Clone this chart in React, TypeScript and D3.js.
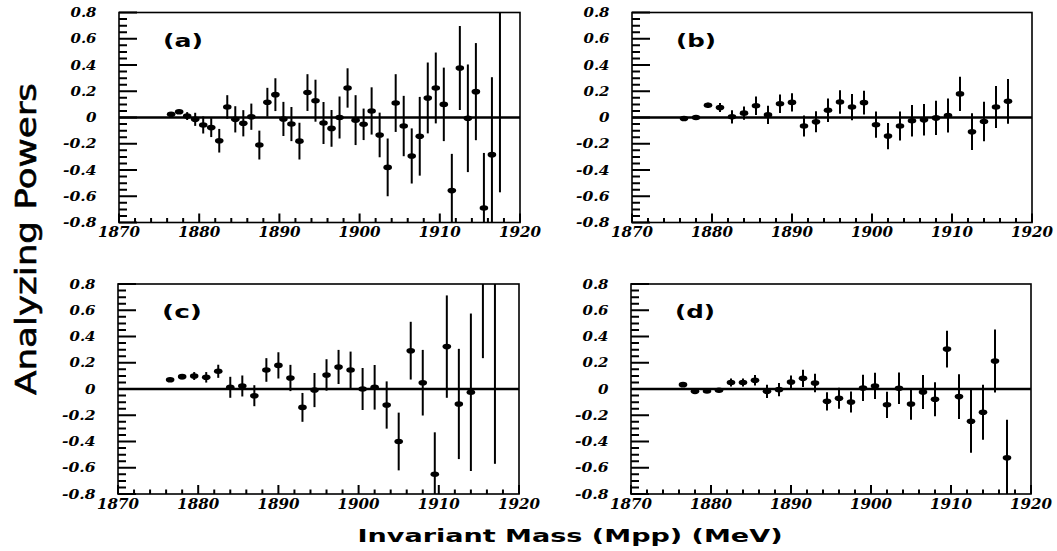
import * as d3 from 'd3'

// bin centres (MeV)
const massA = [
  1876.5, 1877.5, 1878.5, 1879.5, 1880.5, 1881.5, 1882.5, 1883.5, 1884.5, 1885.5,
  1886.5, 1887.5, 1888.5, 1889.5, 1890.5, 1891.5, 1892.5, 1893.5, 1894.5, 1895.5,
  1896.5, 1897.5, 1898.5, 1899.5, 1900.5, 1901.5, 1902.5, 1903.5, 1904.5, 1905.5,
  1906.5, 1907.5, 1908.5, 1909.5, 1910.5, 1911.5, 1912.5, 1913.5, 1914.5, 1915.5,
  1916.5, 1917.5,
]
const powerA = [
  0.024, 0.044, 0.011, -0.014, -0.057, -0.077, -0.177, 0.08, -0.014, -0.044,
  0.006, -0.21, 0.116, 0.174, -0.011, -0.05, -0.18, 0.19, 0.128, -0.042,
  -0.083, 0.0, 0.225, -0.02, -0.052, 0.05, -0.133, -0.38, 0.11, -0.065,
  -0.293, -0.143, 0.149, 0.225, 0.1, -0.557, 0.377, -0.006, 0.197, -0.69,
  -0.283, 1.0,
]
const errA = [
  0.015, 0.015, 0.03, 0.05, 0.065, 0.072, 0.09, 0.09, 0.1, 0.1,
  0.1, 0.11, 0.11, 0.125, 0.13, 0.13, 0.14, 0.14, 0.16, 0.16,
  0.14, 0.16, 0.15, 0.19, 0.12, 0.18, 0.17, 0.22, 0.22, 0.23,
  0.21, 0.3, 0.27, 0.27, 0.28, 0.28, 0.32, 0.41, 0.37, 0.42,
  0.59, 1.57,
]

const massWide = [
  1876.5, 1878.0, 1879.5, 1881.0, 1882.5, 1884.0, 1885.5, 1887.0, 1888.5, 1890.0,
  1891.5, 1893.0, 1894.5, 1896.0, 1897.5, 1899.0, 1900.5, 1902.0, 1903.5, 1905.0,
  1906.5, 1908.0, 1909.5, 1911.0, 1912.5, 1914.0, 1915.5, 1917.0,
]
const powerB = [
  -0.008, 0.0, 0.093, 0.076, 0.005, 0.033, 0.09, 0.02, 0.105, 0.115,
  -0.065, -0.033, 0.055, 0.118, 0.08, 0.113, -0.055, -0.141, -0.065, -0.025,
  -0.018, -0.003, 0.015, 0.18, -0.108, -0.03, 0.08, 0.123,
]
const errB = [
  0.01, 0.01, 0.02, 0.035, 0.05, 0.05, 0.07, 0.07, 0.07, 0.07,
  0.08, 0.08, 0.09, 0.09, 0.1, 0.09, 0.1, 0.1, 0.11, 0.12,
  0.12, 0.13, 0.13, 0.13, 0.14, 0.15, 0.16, 0.17,
]
const powerC = [
  0.071, 0.094, 0.099, 0.089, 0.135, 0.013, 0.023, -0.051, 0.145, 0.18,
  0.084, -0.14, -0.008, 0.107, 0.168, 0.145, 0.0, 0.013, -0.122, -0.4,
  0.292, 0.048, -0.65, 0.323, -0.114, -0.025, 1.0, 1.0,
]
const errC = [
  0.015, 0.02, 0.03, 0.04, 0.05, 0.08, 0.08, 0.08, 0.09, 0.1,
  0.1, 0.11, 0.13, 0.12, 0.13, 0.14, 0.16, 0.17, 0.18, 0.22,
  0.22, 0.25, 0.32, 0.39, 0.42, 0.6, 0.765, 1.57,
]
const powerD = [
  0.033, -0.018, -0.015, -0.01, 0.05, 0.05, 0.066, -0.018, -0.005, 0.053,
  0.081, 0.046, -0.094, -0.071, -0.099, 0.008, 0.023, -0.12, 0.005, -0.114,
  -0.023, -0.078, 0.304, -0.058, -0.246, -0.177, 0.213, -0.524,
]
const errD = [
  0.015, 0.01, 0.01, 0.015, 0.03, 0.03, 0.04, 0.05, 0.05, 0.05,
  0.065, 0.07, 0.07, 0.08, 0.08, 0.1, 0.1, 0.1, 0.12, 0.12,
  0.13, 0.13, 0.14, 0.17, 0.24, 0.21, 0.24, 0.29,
]

const X_DOMAIN = [1870, 1920]
const Y_DOMAIN = [-0.8, 0.8]

const PANELS = [
  { id: 'a', label: '(a)', x0: 119, y0: 12.5, w: 401, h: 210, mass: massA, val: powerA, err: errA },
  { id: 'b', label: '(b)', x0: 632, y0: 12.5, w: 400, h: 210, mass: massWide, val: powerB, err: errB },
  { id: 'c', label: '(c)', x0: 118, y0: 284, w: 401, h: 210, mass: massWide, val: powerC, err: errC },
  { id: 'd', label: '(d)', x0: 631, y0: 284, w: 400, h: 210, mass: massWide, val: powerD, err: errD },
]

const TICK_FONT = '"DejaVu Serif", "Liberation Serif", serif'
const LABEL_FONT = '"DejaVu Sans", "Liberation Sans", sans-serif'

// stretch the wide bold italic digits like the scanned figure
const labelWidth = (s: string) =>
  s.split('').reduce((acc, ch) => acc + (ch === '.' ? 5 : ch === '-' ? 7.5 : 10.5), 0)

const fmtY = (v: number) => (Math.abs(v) < 1e-9 ? '0' : v.toFixed(1))

const scalesFor = p => ({
  x: d3.scaleLinear().domain(X_DOMAIN).range([p.x0, p.x0 + p.w]),
  y: d3.scaleLinear().domain(Y_DOMAIN).range([p.y0 + p.h, p.y0]),
})

function Panel({ p }) {
  const { x, y } = scalesFor(p)
  const yc = y.copy().clamp(true)
  const bottom = p.y0 + p.h
  const yMajor = y.ticks(8)
  const xMajor = x.ticks(5)

  return (
    <g>
      {yMajor.map(t => {
        const s = fmtY(t)
        return (
          <text key={`yl${t}`} x={p.x0 - 22.5} y={y(t) + 4.5} textAnchor="end"
            fontFamily={TICK_FONT} fontWeight="bold" fontStyle="italic" fontSize={12.5}
            textLength={labelWidth(s)} lengthAdjust="spacingAndGlyphs">{s}</text>
        )
      })}
      {xMajor.map(t => (
        <text key={`xl${t}`} x={x(t)} y={bottom + 14.5} textAnchor="middle"
          fontFamily={TICK_FONT} fontWeight="bold" fontStyle="italic" fontSize={14}
          textLength={42} lengthAdjust="spacingAndGlyphs">{String(t)}</text>
      ))}

      <line x1={p.x0} x2={p.x0 + p.w} y1={y(0)} y2={y(0)} stroke="#000" strokeWidth={2.6} />

      {p.mass.map((m, i) => (
        <g key={i}>
          <line x1={x(m)} x2={x(m)} y1={yc(p.val[i] - p.err[i])} y2={yc(p.val[i] + p.err[i])}
            stroke="#000" strokeWidth={2} />
          {Math.abs(p.val[i]) <= 0.8 && (
            <ellipse cx={x(m)} cy={y(p.val[i])} rx={4.3} ry={2.8} fill="#000" />
          )}
        </g>
      ))}

      <rect x={p.x0} y={p.y0} width={p.w} height={p.h} fill="none" stroke="#000" strokeWidth={1.6} />

      <text x={p.x0 + 44} y={p.y0 + 34} fontFamily={LABEL_FONT} fontWeight="bold" fontSize={17}
        textLength={40} lengthAdjust="spacingAndGlyphs">{p.label}</text>
    </g>
  )
}

// ticks drawn in their own top-level layer, inward from the left and bottom axes
function Ticks({ p }) {
  const { x, y } = scalesFor(p)
  const bottom = p.y0 + p.h
  const yMajor = y.ticks(8)
  const yMinor = y.ticks(32).filter(t => !yMajor.some(m => Math.abs(m - t) < 1e-9))
  const xMajor = x.ticks(5)
  const xMinor = x.ticks(25).filter(t => !xMajor.includes(t))
  const d = [
    ...yMajor.map(t => `M${p.x0},${y(t)}H${p.x0 + 18}`),
    ...yMinor.map(t => `M${p.x0},${y(t)}H${p.x0 + 8}`),
    ...xMajor.map(t => `M${x(t)},${bottom}V${bottom - 9}`),
    ...xMinor.map(t => `M${x(t)},${bottom}V${bottom - 4.5}`),
  ].join('')
  return <path d={d} stroke="#000" strokeWidth={2} fill="none" />
}

export default function App() {
  return (
    <svg width={1057} height={551} style={{ position: 'absolute', left: 0, top: 0 }}>
      {PANELS.map(p => <Panel key={p.id} p={p} />)}
      {PANELS.map(p => <Ticks key={`t${p.id}`} p={p} />)}

      <text transform="translate(36,239) rotate(-90)" textAnchor="middle"
        fontFamily={LABEL_FONT} fontSize={29} stroke="#000" strokeWidth={0.6}
        textLength={312} lengthAdjust="spacingAndGlyphs">Analyzing Powers</text>

      <text x={570} y={542} textAnchor="middle"
        fontFamily={LABEL_FONT} fontWeight="bold" fontSize={17}
        textLength={425} lengthAdjust="spacingAndGlyphs">Invariant Mass (Mpp) (MeV)</text>
    </svg>
  )
}
